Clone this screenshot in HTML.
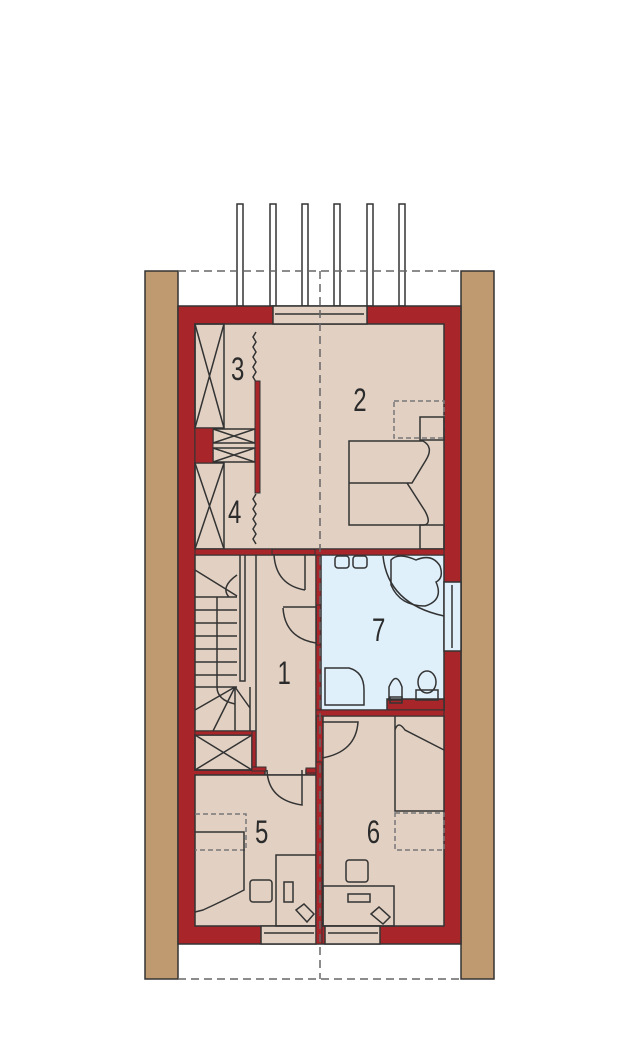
<!DOCTYPE html>
<html><head><style>html,body{margin:0;padding:0;background:#fff}svg{display:block}text{font-family:"Liberation Sans",sans-serif;font-size:32px;fill:#2b2b2b}</style></head>
<body>
<svg width="621" height="1064" viewBox="0 0 621 1064" xmlns="http://www.w3.org/2000/svg">
<g stroke="#333" stroke-width="1.5">
<rect x="145" y="271" width="33" height="708" fill="#bf9970"/>
<rect x="461" y="271" width="33" height="708" fill="#bf9970"/>
</g>
<g fill="#fff" stroke="#333" stroke-width="1.5">
<rect x="237" y="204" width="6" height="102"/><rect x="270" y="204" width="6" height="102"/><rect x="302" y="204" width="6" height="102"/><rect x="334" y="204" width="6" height="102"/><rect x="367" y="204" width="6" height="102"/><rect x="399" y="204" width="6" height="102"/>
</g>
<g stroke="#666" stroke-width="1.5" stroke-dasharray="8,5" fill="none">
<line x1="178" y1="271" x2="461" y2="271"/><line x1="178" y1="979" x2="461" y2="979"/>
</g>
<rect x="178" y="306" width="283" height="638" fill="#a8262a" stroke="#333" stroke-width="1.5"/>
<g fill="#e2d1c3" stroke="#333" stroke-width="1.5">
<rect x="195" y="324" width="249" height="225"/>
<rect x="195" y="555" width="121" height="176"/>
<polygon points="256,555 316,555 316,770 306,770 306,775 265,775 265,770 256,770 256,735"/>
<rect x="195" y="735" width="57" height="35"/>
<rect x="195" y="775" width="121" height="151"/>
<rect x="323" y="716" width="121" height="210"/>
<rect x="273" y="306" width="94" height="18"/>
<rect x="261" y="926" width="55" height="18"/>
<rect x="325" y="926" width="55" height="18"/>
</g>
<rect x="321" y="555" width="123" height="155" fill="#dff0fb" stroke="#333" stroke-width="1.5"/>
<rect x="387" y="699" width="57" height="11" fill="#a8262a" stroke="#333" stroke-width="1.5"/>
<rect x="444" y="582" width="17" height="69" fill="#dff0fb" stroke="#333" stroke-width="1.5"/>
<g fill="none" stroke="#333" stroke-width="1.5">
<line x1="275" y1="314" x2="364" y2="314"/><line x1="264" y1="933" x2="314" y2="933"/><line x1="328" y1="933" x2="378" y2="933"/>
<line x1="452" y1="585" x2="452" y2="648"/>
<rect x="195" y="324" width="29" height="104"/><path d="M195 324L224 428M224 324L195 428"/>
<rect x="195" y="463" width="29" height="86"/><path d="M195 463L224 549M224 463L195 549"/>
<rect x="213" y="429" width="42" height="14"/><path d="M213 429L255 443M255 429L213 443"/>
<rect x="213" y="448" width="42" height="14"/><path d="M213 448L255 462M255 448L213 462"/>
<path d="M256 332l-3 5 3 5-3 5 3 5-3 5 3 5-3 5 3 5-3 5 3 5"/>
<path d="M256 494l-3 5 3 5-3 5 3 5-3 5 3 5-3 5 3 5-3 5 3 5"/>
<rect x="394" y="401" width="50" height="37" stroke="#777" stroke-dasharray="5,3"/>
<rect x="420" y="417" width="24" height="23"/>
<path d="M349 441H423Q434 447 426 460L412 483H349ZM349 483H407L425 511Q432 524 424 525H349Z"/>
<rect x="420" y="525" width="24" height="24"/>
<rect x="240" y="555" width="5" height="126" fill="#e2d1c3"/>
<path d="M195 570L237 596M229 597Q220 587 237 575M195 597H237M195 610H237M195 623H237M195 636H237M195 649H237M195 662H237M195 675H237M195 687H237M217 597V687Q217 700 235 704M235 687L195 710M235 687L213 731M235 687V731M235 687L250 708M250 687V731"/>
<rect x="195" y="735" width="57" height="35"/><path d="M195 735L252 770M252 735L195 770"/>
<path d="M274 555Q276 585 305 590M305 555V590"/>
<path d="M283 607H316M283 608Q285 638 316 643"/>
<path d="M322 722H358Q356 752 322 758"/>
<path d="M267 770Q268 800 302 805V770"/>
<rect x="335" y="556" width="14" height="12" rx="3"/><rect x="353" y="556" width="14" height="12" rx="3"/>
<path d="M383 556Q388 604 444 616"/>
<path d="M391 560Q398 552 416 560Q432 553 440 566Q444 578 436 582Q444 600 425 606Q400 606 391 585Z"/>
<path d="M325 668H349Q364 672 364 690V705H325Z"/>
<path d="M389 687Q396 670 402 687V700H389Z"/><rect x="390" y="697" width="12" height="6"/>
<ellipse cx="427" cy="682" rx="9" ry="11"/><rect x="416" y="690" width="22" height="10"/>
<path d="M195 814H246V850H195" stroke="#777" stroke-dasharray="5,3"/>
<path d="M195 832H244V890Q225 900 203 910L195 912"/>
<rect x="250" y="880" width="22" height="22" rx="3"/>
<rect x="276" y="855" width="40" height="71"/>
<rect x="284" y="882" width="9" height="20"/>
<path d="M296 910l8-6 10 10-7 8z"/>
<path d="M395 716V811H444M395 730Q398 720 405 730L444 750" />
<path d="M395 813H444V850H395Z" stroke="#777" stroke-dasharray="5,3"/>
<rect x="346" y="860" width="22" height="22" rx="3"/>
<rect x="323" y="886" width="71" height="40"/>
<rect x="348" y="894" width="22" height="8"/>
<path d="M371 914l8-7 11 10-7 7z"/>
</g>
<g fill="#a8262a" stroke="#333" stroke-width="1">
<rect x="255" y="381" width="5" height="112"/>
<rect x="195" y="428" width="18" height="35"/>
<rect x="195" y="549" width="77" height="6"/>
<rect x="315" y="549" width="129" height="6"/>
<rect x="316" y="555" width="5" height="50"/>
<rect x="316" y="645" width="5" height="71"/>
<rect x="316" y="710" width="128" height="6"/>
<rect x="316" y="762" width="6" height="182"/>
<rect x="306" y="768" width="10" height="5"/>
<rect x="195" y="731" width="61" height="4"/>
<rect x="252" y="731" width="4" height="39"/>
<rect x="252" y="767" width="14" height="4"/>
</g>
<line x1="320" y1="271" x2="320" y2="979" stroke="#666" stroke-width="1.5" stroke-dasharray="8,5"/>
<g transform="scale(0.75,1)">
<text x="308" y="380">3</text><text x="304" y="523">4</text><text x="471" y="411">2</text><text x="496" y="641">7</text><text x="370" y="684">1</text><text x="340" y="843">5</text><text x="489" y="843">6</text>
</g>
</svg>
</body></html>
